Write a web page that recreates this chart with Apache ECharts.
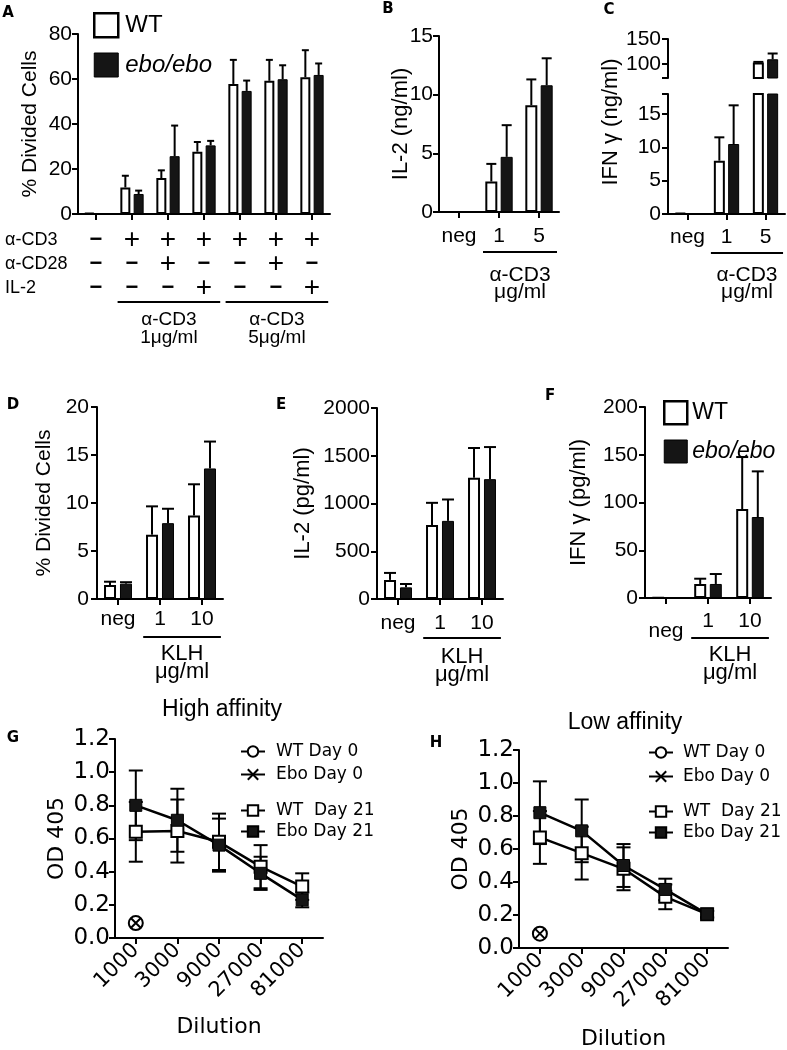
<!DOCTYPE html>
<html><head><meta charset="utf-8">
<script src="https://cdn.jsdelivr.net/npm/echarts@6/dist/echarts.min.js"></script>
<style>html,body{margin:0;padding:0;background:#fff}#c{width:787px;height:1050px}</style>
</head><body><div id="c"></div>
<script>
// ---------------- DATA ----------------
// Panel A: % divided cells (anti-CD3 stimulation)
const aCats = ['none', 'CD3 1', 'CD3+CD28 1', 'CD3+IL2 1', 'CD3 5', 'CD3+CD28 5', 'CD3+IL2 5'];
const aRowCD3  = ['−', '+', '+', '+', '+', '+', '+'];
const aRowCD28 = ['−', '−', '+', '−', '−', '+', '−'];
const aRowIL2  = ['−', '−', '−', '+', '−', '−', '+'];
const aWT     = [0.4, 11.8, 16, 27.7, 57.8, 59.2, 60.8];
const aWTErr  = [0, 5.2, 3.4, 4.3, 10.7, 9.3, 12];
const aEbo    = [0.4, 8.9, 25.7, 30.5, 54.7, 59.9, 61.8];
const aEboErr = [0, 1.5, 13.6, 2, 4.6, 6.2, 5.1];
const aTicks = [0, 20, 40, 60, 80];

// Panel B: IL-2 (ng/ml)
const bCats = ['neg', '1', '5'];
const bWT     = [0, 2.6, 9.1];
const bWTErr  = [0, 1.5, 2.2];
const bEbo    = [0, 4.7, 10.8];
const bEboErr = [0, 2.7, 2.3];

// Panel C: IFN γ (ng/ml), broken axis
const cCats = ['neg', '1', '5'];
const cWT     = [0.15, 8, 103];
const cWTErr  = [0, 3.5, 1.2];
const cEbo    = [0, 10.5, 109.5];
const cEboErr = [0, 5.8, 11.5];
const cLowTicks = [0, 5, 10, 15];
const cHighTicks = [100, 150];

// Panel D: % divided cells (KLH)
const dCats = ['neg', '1', '10'];
const dWT     = [1.45, 6.7, 8.7];
const dWTErr  = [0.35, 2.95, 3.25];
const dEbo    = [1.6, 7.9, 13.6];
const dEboErr = [0.15, 1.5, 2.8];

// Panel E: IL-2 (pg/ml)
const eCats = ['neg', '1', '10'];
const eWT     = [200, 775, 1270];
const eWTErr  = [73, 232, 311];
const eEbo    = [122, 818, 1255];
const eEboErr = [35, 224, 336];

// Panel F: IFN γ (pg/ml)
const fCats = ['neg', '1', '10'];
const fWT     = [0.3, 14.7, 93.2];
const fWTErr  = [0, 5.5, 54.4];
const fEbo    = [0.3, 14.7, 84.8];
const fEboErr = [0, 10.4, 47.8];

// Panels G, H: OD 405 vs dilution
const dilutions = ['1000', '3000', '9000', '27000', '81000'];
const gWTDay0  = [0.09];
const gEboDay0 = [0.09];
const gWTDay21    = [0.64, 0.645, 0.58, 0.43, 0.31];
const gWTDay21Sd  = [0.18, 0.19, 0.17, 0.13, 0.08];
const gEboDay21   = [0.80, 0.71, 0.56, 0.39, 0.23];
const gEboDay21Sd = [0.21, 0.19, 0.16, 0.10, 0.045];
const hWTDay0  = [0.087];
const hEboDay0 = [0.087];
const hWTDay21    = [0.67, 0.575, 0.48, 0.31, 0.205];
const hWTDay21Sd  = [0.16, 0.16, 0.13, 0.075, 0.02];
const hEboDay21   = [0.82, 0.71, 0.50, 0.355, 0.205];
const hEboDay21Sd = [0.19, 0.19, 0.13, 0.065, 0.02];

// ---------------- STYLE / LAYOUT ----------------
const FONT = "'Liberation Sans', Arial, Helvetica, sans-serif";
const FONT2 = "'DejaVu Sans', sans-serif";
const BLACK = '#000';
const EBO = '#151515';

const chart = echarts.init(document.getElementById('c'), null, {renderer: 'canvas'});

const gridDefs = [
  {left: 78,  top: 34,  width: 252, height: 180}, // 0 A
  {left: 439, top: 36,  width: 120, height: 176}, // 1 B
  {left: 668, top: 39,  width: 117, height: 39},  // 2 C upper
  {left: 668, top: 94,  width: 117, height: 120}, // 3 C lower
  {left: 97,  top: 407, width: 126, height: 192}, // 4 D
  {left: 377, top: 408, width: 126, height: 191}, // 5 E
  {left: 645, top: 407, width: 126, height: 191}, // 6 F
  {left: 115, top: 739, width: 208, height: 199}, // 7 G
  {left: 519, top: 750, width: 209, height: 198}  // 8 H
];
const grid = gridDefs.map(g => Object.assign({outerBoundsMode: 'none', containLabel: false}, g));

const axLine = {show: true, lineStyle: {color: BLACK, width: 2}};
const axTick = (len) => ({show: true, length: len || 6, lineStyle: {color: BLACK, width: 2}});
const plain = v => String(v);

function catAxis(g, data, labelOpts, tickOpts) {
  return {
    type: 'category', gridIndex: g, data: data, boundaryGap: true,
    axisLine: axLine,
    axisTick: Object.assign({alignWithLabel: true, interval: 0}, axTick(6), tickOpts || {}),
    axisLabel: Object.assign({color: BLACK, fontFamily: FONT, fontSize: 21, margin: 14, interval: 0}, labelOpts || {}),
    splitLine: {show: false}
  };
}
function valAxis(g, min, max, interval, name, nameGap, labelOpts, extra) {
  return Object.assign({
    type: 'value', gridIndex: g, min: min, max: max, interval: interval,
    name: name, nameLocation: 'middle', nameGap: nameGap, nameMoveOverlap: false,
    nameTextStyle: {color: BLACK, fontFamily: FONT, fontSize: 21},
    axisLine: axLine, axisTick: axTick(6),
    axisLabel: Object.assign({color: BLACK, fontFamily: FONT, fontSize: 21, margin: 7, formatter: plain}, labelOpts || {}),
    splitLine: {show: false}
  }, extra || {});
}

const xAxis = [
  catAxis(0, aCats, {
    margin: 14,
    formatter: (v, i) => ['{' + (aRowCD3[i] === '+' ? 'p' : 'm') + '|' + aRowCD3[i] + '}',
                          '{' + (aRowCD28[i] === '+' ? 'p' : 'm') + '|' + aRowCD28[i] + '}',
                          '{' + (aRowIL2[i] === '+' ? 'p' : 'm') + '|' + aRowIL2[i] + '}'].join('\n'),
    rich: {
      p: {fontFamily: FONT, fontSize: 28, lineHeight: 24, color: BLACK},
      m: {fontFamily: FONT, fontSize: 22, lineHeight: 24, color: BLACK, fontWeight: 'bold'}
    }
  }),
  catAxis(1, bCats, {margin: 14}),
  Object.assign(catAxis(2, cCats), {show: false}),
  catAxis(3, cCats, {margin: 13}),
  catAxis(4, dCats, {margin: 10}),
  catAxis(5, eCats, {margin: 14}),
  catAxis(6, fCats, {
    margin: 13,
    formatter: v => v === 'neg' ? '{low|neg}' : v,
    rich: {low: {fontFamily: FONT, fontSize: 21, color: BLACK, padding: [10, 0, 0, 0]}}
  }),
  catAxis(7, dilutions, {fontFamily: FONT2, fontSize: 21, rotate: 45, margin: 9}),
  catAxis(8, dilutions, {fontFamily: FONT2, fontSize: 21, rotate: 45, margin: 9})
];
xAxis[7].name = 'Dilution'; xAxis[7].nameLocation = 'middle'; xAxis[7].nameGap = 78;
xAxis[7].nameTextStyle = {color: BLACK, fontFamily: FONT2, fontSize: 22};
xAxis[8].name = 'Dilution'; xAxis[8].nameLocation = 'middle'; xAxis[8].nameGap = 80;
xAxis[8].nameTextStyle = {color: BLACK, fontFamily: FONT2, fontSize: 22};

const odFmt = v => v.toFixed(1);
const yAxis = [
  valAxis(0, aTicks[0], aTicks[aTicks.length - 1], aTicks[1] - aTicks[0], '% Divided Cells', 37, {margin: 6}),
  valAxis(1, 0, 15, 5, 'IL-2 (ng/ml)', 27, {margin: 6}, {nameTextStyle: {color: BLACK, fontFamily: FONT, fontSize: 22}}),
  valAxis(2, 72, 150, null, '', 0, {customValues: cHighTicks, margin: 7},
    {axisTick: Object.assign(axTick(6), {customValues: [72, 100, 150]})}),
  valAxis(3, 0, 18, null, '', 0, {customValues: cLowTicks, margin: 7},
    {axisTick: Object.assign(axTick(6), {customValues: [0, 5, 10, 15, 18]})}),
  valAxis(4, 0, 20, 5, '% Divided Cells', 42, {margin: 8}),
  valAxis(5, 0, 2000, 500, 'IL-2 (pg/ml)', 63, {margin: 7}, {nameTextStyle: {color: BLACK, fontFamily: FONT, fontSize: 22}}),
  valAxis(6, 0, 200, 50, 'IFN γ (pg/ml)', 55, {margin: 7}, {nameTextStyle: {color: BLACK, fontFamily: FONT, fontSize: 22}}),
  valAxis(7, 0, 1.2, 0.2, 'OD 405', 47, {fontFamily: FONT2, fontSize: 23, margin: 5, formatter: odFmt},
    {nameTextStyle: {color: BLACK, fontFamily: FONT2, fontSize: 22}}),
  valAxis(8, 0, 1.2, 0.2, 'OD 405', 47, {fontFamily: FONT2, fontSize: 23, margin: 5, formatter: odFmt},
    {nameTextStyle: {color: BLACK, fontFamily: FONT2, fontSize: 22}})
];

// ---------------- SERIES ----------------
const series = [];
function seg(x1, y1, x2, y2, w) {
  return {type: 'line', shape: {x1: x1, y1: y1, x2: x2, y2: y2}, style: {stroke: BLACK, lineWidth: w || 2}};
}
function errSeries(g, vals, errs, side, offPx, cap, range) {
  return {
    type: 'custom', xAxisIndex: g, yAxisIndex: g, silent: true, z: 3,
    data: vals.map((v, i) => [i, v, v + errs[i]]),
    renderItem: (params, api) => {
      const v = api.value(1), t = api.value(2);
      if (!(t > v)) return;
      if (range && (t > range[1] || t < range[0])) return;
      const lo = Math.max(v, range ? range[0] : v);
      const p0 = api.coord([api.value(0), lo]);
      const p1 = api.coord([api.value(0), t]);
      const x = p0[0] + side * offPx;
      return {type: 'group', children: [seg(x, p0[1], x, p1[1]), seg(x - cap, p1[1], x + cap, p1[1])]};
    }
  };
}
function barPanel(g, wt, wtErr, ebo, eboErr, bw, gap, cap, range) {
  series.push({
    type: 'bar', name: 'WT', xAxisIndex: g, yAxisIndex: g, data: wt, barWidth: bw, barGap: (gap * 100) + '%',
    itemStyle: {color: '#fff', borderColor: BLACK, borderWidth: 2}, silent: true, clip: true
  });
  series.push({
    type: 'bar', name: 'ebo/ebo', xAxisIndex: g, yAxisIndex: g, data: ebo, barWidth: bw, barGap: (gap * 100) + '%',
    itemStyle: {color: EBO, borderColor: BLACK, borderWidth: 1}, silent: true, clip: true
  });
  const off = bw * (1 + gap) / 2;
  series.push(errSeries(g, wt, wtErr, -1, off, cap, range));
  series.push(errSeries(g, ebo, eboErr, 1, off, cap, range));
}
barPanel(0, aWT, aWTErr, aEbo, aEboErr, 10, 0.33, 3.5);
barPanel(1, bWT, bWTErr, bEbo, bEboErr, 12, 0.28, 5);
barPanel(2, cWT, cWTErr, cEbo, cEboErr, 11, 0.3, 5, [72, 150]);
barPanel(3, cWT, cWTErr, cEbo, cEboErr, 11, 0.3, 5, [0, 18]);
barPanel(4, dWT, dWTErr, dEbo, dEboErr, 12, 0.33, 6);
barPanel(5, eWT, eWTErr, eEbo, eEboErr, 12, 0.33, 6);
barPanel(6, fWT, fWTErr, fEbo, fEboErr, 12, 0.3, 6);

function sdSeries(g, vals, sds) {
  return {
    type: 'custom', xAxisIndex: g, yAxisIndex: g, silent: true, z: 1,
    data: vals.map((v, i) => [i, v - sds[i], v + sds[i]]),
    renderItem: (params, api) => {
      const lo = api.coord([api.value(0), api.value(1)]);
      const hi = api.coord([api.value(0), api.value(2)]);
      const x = lo[0], c = 7;
      return {type: 'group', children: [seg(x, lo[1], x, hi[1]), seg(x - c, lo[1], x + c, lo[1]), seg(x - c, hi[1], x + c, hi[1])]};
    }
  };
}
const XMARK = 'path://M0,0L10,10M10,0L0,10';
function odPanel(g, wt0, ebo0, wt21, wt21sd, ebo21, ebo21sd) {
  series.push(sdSeries(g, wt21, wt21sd));
  series.push(sdSeries(g, ebo21, ebo21sd));
  series.push({type: 'line', name: 'WT  Day 21', xAxisIndex: g, yAxisIndex: g, data: wt21, symbol: 'rect', symbolSize: 12,
    lineStyle: {color: BLACK, width: 2.5}, itemStyle: {color: '#fff', borderColor: BLACK, borderWidth: 2}, silent: true, z: 3});
  series.push({type: 'line', name: 'Ebo Day 21', xAxisIndex: g, yAxisIndex: g, data: ebo21, symbol: 'rect', symbolSize: 12,
    lineStyle: {color: BLACK, width: 2.5}, itemStyle: {color: EBO, borderColor: BLACK, borderWidth: 1}, silent: true, z: 4});
  series.push({type: 'line', name: 'WT Day 0', xAxisIndex: g, yAxisIndex: g, data: wt0, symbol: 'circle', symbolSize: 14,
    lineStyle: {color: BLACK, width: 2}, itemStyle: {color: '#fff', borderColor: BLACK, borderWidth: 2}, silent: true, z: 5});
  series.push({type: 'line', name: 'Ebo Day 0', xAxisIndex: g, yAxisIndex: g, data: ebo0, symbol: XMARK, symbolSize: 10,
    lineStyle: {color: BLACK, width: 2}, itemStyle: {color: 'rgba(0,0,0,0)', borderColor: BLACK, borderWidth: 2}, silent: true, z: 6});
}
odPanel(7, gWTDay0, gEboDay0, gWTDay21, gWTDay21Sd, gEboDay21, gEboDay21Sd);
odPanel(8, hWTDay0, hEboDay0, hWTDay21, hWTDay21Sd, hEboDay21, hEboDay21Sd);

// ---------------- LEGENDS ----------------
const barLegendData = [
  {name: 'WT', itemStyle: {color: '#fff', borderColor: BLACK, borderWidth: 2.5}},
  {name: 'ebo/ebo', itemStyle: {color: EBO, borderColor: BLACK, borderWidth: 1}}
];
function barLegend(left, top, size, fs, gap, pad) {
  return {
    data: barLegendData, orient: 'vertical', left: left, top: top, padding: 0, itemWidth: size, itemHeight: size, itemGap: gap,
    icon: 'rect', selectedMode: false,
    formatter: n => n === 'ebo/ebo' ? '{i|ebo/ebo}' : n,
    textStyle: {color: BLACK, fontFamily: FONT, fontSize: fs, padding: [0, 0, 0, pad],
      rich: {i: {fontStyle: 'italic', fontFamily: FONT, fontSize: fs, color: BLACK}}}
  };
}
function odLegend(names, left, top, gap, pad) {
  return {
    data: names, orient: 'vertical', left: left, top: top, padding: 0, itemWidth: 24, itemHeight: 13, itemGap: gap, selectedMode: false,
    textStyle: {color: BLACK, fontFamily: FONT2, fontSize: 17, padding: [0, 0, 0, pad]}
  };
}
const legend = [
  barLegend(93, 12, 24, 24, 14, 2),
  barLegend(663, 400, 23, 23, 14, 0),
  odLegend(['WT Day 0', 'Ebo Day 0'], 240, 743, 6, 6),
  odLegend(['WT  Day 21', 'Ebo Day 21'], 240, 802, 4, 6),
  odLegend(['WT Day 0', 'Ebo Day 0'], 648, 744, 7, 5),
  odLegend(['WT  Day 21', 'Ebo Day 21'], 648, 803, 4, 5)
];

chart.setOption({
  animation: false,
  backgroundColor: '#fff',
  grid: grid, xAxis: xAxis, yAxis: yAxis, series: series, legend: legend
});

// ---------------- ANNOTATIONS ----------------
function txt(x, y, s, fs, opts) {
  return {type: 'text', x: x, y: y, silent: true,
    style: {text: s, fill: BLACK, font: (opts && opts.weight ? opts.weight + ' ' : '') + fs + 'px ' + ((opts && opts.family) || FONT),
      textAlign: (opts && opts.align) || 'center', textVerticalAlign: 'middle'}};
}
const graphics = [];
// panel letters
[['A', 8, 13], ['B', 388, 9], ['C', 609, 10], ['D', 13, 405], ['E', 281, 405], ['F', 550, 396], ['G', 13, 738], ['H', 436, 743]]
  .forEach(l => graphics.push(txt(l[1], l[2], l[0], 15, {weight: 'bold', family: FONT2})));
// row labels of panel A
[['α-CD3', 240], ['α-CD28', 264], ['IL-2', 288]].forEach(r => graphics.push(txt(5, r[1], r[0], 18, {align: 'left'})));
// C axis title spanning both segments
const cTitle = txt(611, 122, 'IFN γ (ng/ml)', 22);
cTitle.rotation = Math.PI / 2;
graphics.push(cTitle);
// panel titles
graphics.push(txt(222, 710, 'High affinity', 23));
graphics.push(txt(625, 723, 'Low affinity', 23));
// brackets under category groups
const brackets = [
  {g: 0, from: 1, to: 3, y: 302, t: ['α-CD3', '1μg/ml'], ty: [320, 338], fs: 19},
  {g: 0, from: 4, to: 6, y: 302, t: ['α-CD3', '5μg/ml'], ty: [320, 338], fs: 19},
  {g: 1, from: 1, to: 2, y: 252, t: ['α-CD3', 'μg/ml'], ty: [275, 292], fs: 21},
  {g: 3, from: 1, to: 2, y: 253, t: ['α-CD3', 'μg/ml'], ty: [275, 292], fs: 21},
  {g: 4, from: 1, to: 2, y: 637, t: ['KLH', 'μg/ml'], ty: [654, 672], fs: 22},
  {g: 5, from: 1, to: 2, y: 638, t: ['KLH', 'μg/ml'], ty: [657, 675], fs: 22},
  {g: 6, from: 1, to: 2, y: 638, t: ['KLH', 'μg/ml'], ty: [655, 673], fs: 22}
];
brackets.forEach(b => {
  const c0 = chart.convertToPixel({gridIndex: b.g}, [0, 0])[0];
  const c1 = chart.convertToPixel({gridIndex: b.g}, [1, 0])[0];
  const w = c1 - c0;
  const xa = chart.convertToPixel({gridIndex: b.g}, [b.from, 0])[0] - 0.4 * w;
  const xb = chart.convertToPixel({gridIndex: b.g}, [b.to, 0])[0] + 0.45 * w;
  graphics.push({type: 'line', silent: true, shape: {x1: xa, y1: b.y, x2: xb, y2: b.y}, style: {stroke: BLACK, lineWidth: 2}});
  const xm = (xa + xb) / 2;
  graphics.push(txt(xm, b.ty[0], b.t[0], b.fs));
  graphics.push(txt(xm, b.ty[1], b.t[1], b.fs));
});
chart.setOption({graphic: graphics});
</script>
</body></html>
